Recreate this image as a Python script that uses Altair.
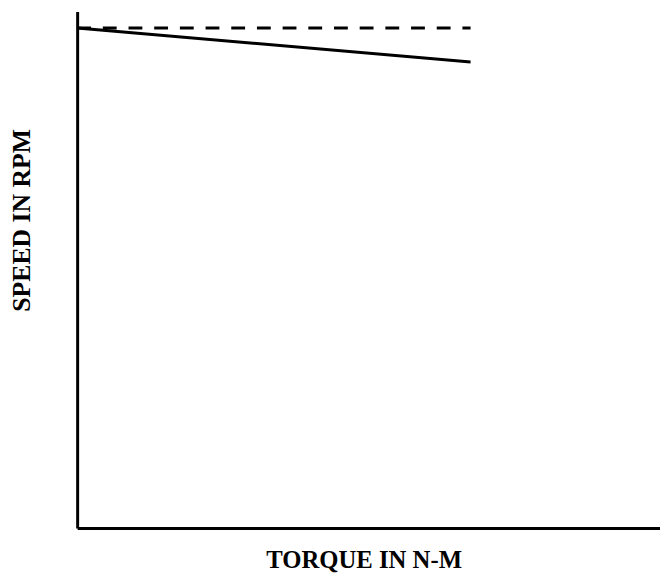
import altair as alt
import pandas as pd

# Torque (arbitrary units) and speed (arbitrary units, % of scale)
torque = [0.0, 67.5]
speed_constant = [96.8, 96.8]   # dashed: ideal constant speed
speed_droop = [96.8, 90.2]      # solid: speed droops with torque

df = pd.DataFrame({
    "torque": torque + torque,
    "speed": speed_constant + speed_droop,
    "curve": ["constant"] * 2 + ["droop"] * 2,
})

FONT = "Liberation Serif"

x_enc = alt.X(
    "torque:Q",
    scale=alt.Scale(domain=[0, 100], nice=False, zero=False),
    axis=alt.Axis(
        title="TORQUE IN N-M", labels=False, ticks=False, grid=False,
        domainColor="black", domainWidth=3,
        titleFont=FONT, titleFontSize=25, titleFontWeight="bold", titleColor="black",
        titleAnchor="middle", titleX=290, titleY=40, titleBaseline="alphabetic",
        titleAlign="center",
    ),
)
y_enc = alt.Y(
    "speed:Q",
    scale=alt.Scale(domain=[0, 100], nice=False, zero=False),
    axis=alt.Axis(
        title="SPEED IN RPM", labels=False, ticks=False, grid=False,
        domainColor="black", domainWidth=3,
        titleFont=FONT, titleFontSize=26, titleFontWeight="bold", titleColor="black",
        titleAngle=-90, titleX=-48, titleY=211, titleBaseline="alphabetic",
        titleAlign="center",
    ),
)

dashed = alt.Chart(df[df.curve == "constant"]).mark_line(
    color="black", strokeWidth=3, strokeDash=[14, 12], clip=False
).encode(x=x_enc, y=y_enc)

solid = alt.Chart(df[df.curve == "droop"]).mark_line(
    color="black", strokeWidth=3, clip=False
).encode(x=x_enc, y=y_enc)

chart = (
    alt.layer(dashed, solid)
    .properties(
        width=590, height=523,
        background="white",
        autosize=alt.AutoSizeParams(type="none"),
        padding={"left": 70, "top": 0, "right": 0, "bottom": 44},
    )
    .configure_view(stroke="transparent", strokeWidth=0)
)

chart.save("out.html", embed_options={"renderer": "svg", "actions": False})
